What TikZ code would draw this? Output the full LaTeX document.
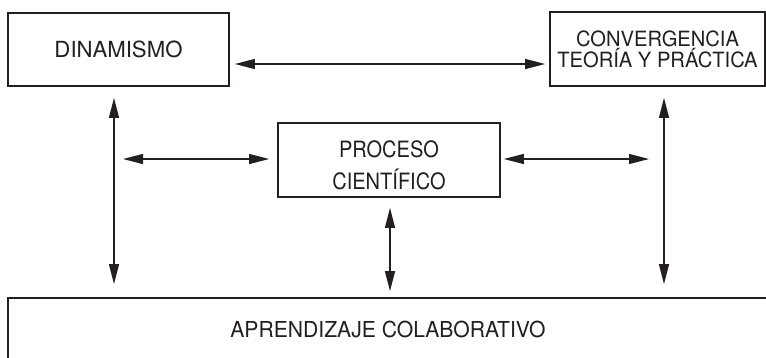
\documentclass[tikz,border=0pt]{standalone}
\usepackage{fontspec}
\setmainfont{TeX Gyre Heros}
\newfontfamily\fdin{TeX Gyre Heros}
\newfontfamily\fconv[FakeStretch=0.96]{TeX Gyre Heros}
\newfontfamily\fproc[FakeStretch=0.89]{TeX Gyre Heros}
\newfontfamily\fapr[FakeStretch=0.96]{TeX Gyre Heros}
\usetikzlibrary{arrows.meta}
\definecolor{ink}{HTML}{231F20}
\begin{document}
\begin{tikzpicture}[x=1pt,y=-1pt,
  box/.style={draw=ink,line width=1.8pt,rectangle,inner sep=0pt,align=center,text=ink},
  link/.style={draw=ink,line width=1.3pt,{Triangle[length=20pt,width=10pt]}-{Triangle[length=20pt,width=10pt]}}]
\useasboundingbox (0,0) rectangle (766,357);
\clip (0,0) rectangle (766,357);
\node[box,minimum width=221pt,minimum height=73pt,font=\fdin\fontsize{22.2}{24}\selectfont] (din) at (118.5,49.5) {DINAMISMO};
\node[box,minimum width=215pt,minimum height=74pt,font=\fconv\fontsize{21}{21}\selectfont] (conv) at (657.5,49) {\rule{0pt}{17pt}CONVERGENCIA\\TEORÍA Y PRÁCTICA};
\node[box,minimum width=222pt,minimum height=74pt,font=\fproc\fontsize{22.5}{32}\selectfont] (proc) at (389,160) {\rule{0pt}{28pt}PROCESO\\CIENTÍFICO};
\node[box,minimum width=760pt,minimum height=62pt,font=\fapr\fontsize{22}{24}\selectfont] (apr) at (388,329) {APRENDIZAJE COLABORATIVO};
% top link
\coordinate (ty) at (0,64);
\draw[link,shorten <=5pt,shorten >=4pt] (din.east |- ty) -- (conv.west |- ty);
% left vertical
\coordinate (lx) at (114,0);
\draw[link,shorten <=11pt,shorten >=13pt] (din.south -| lx) -- (apr.north -| lx);
% right vertical
\coordinate (rx) at (664,0);
\draw[link,shorten <=11pt,shorten >=13pt] (conv.south -| rx) -- (apr.north -| rx);
% middle vertical
\coordinate (mx) at (390,0);
\draw[link,shorten <=10pt,shorten >=6pt] (proc.south -| mx) -- (apr.north -| mx);
% middle horizontals
\coordinate (ml) at (114,159);
\coordinate (mr) at (664,159);
\draw[link,shorten <=9pt,shorten >=8pt] (ml) -- (proc.west |- ml);
\draw[link,shorten <=3pt,shorten >=15pt] (proc.east |- mr) -- (mr);
\end{tikzpicture}
\end{document}
